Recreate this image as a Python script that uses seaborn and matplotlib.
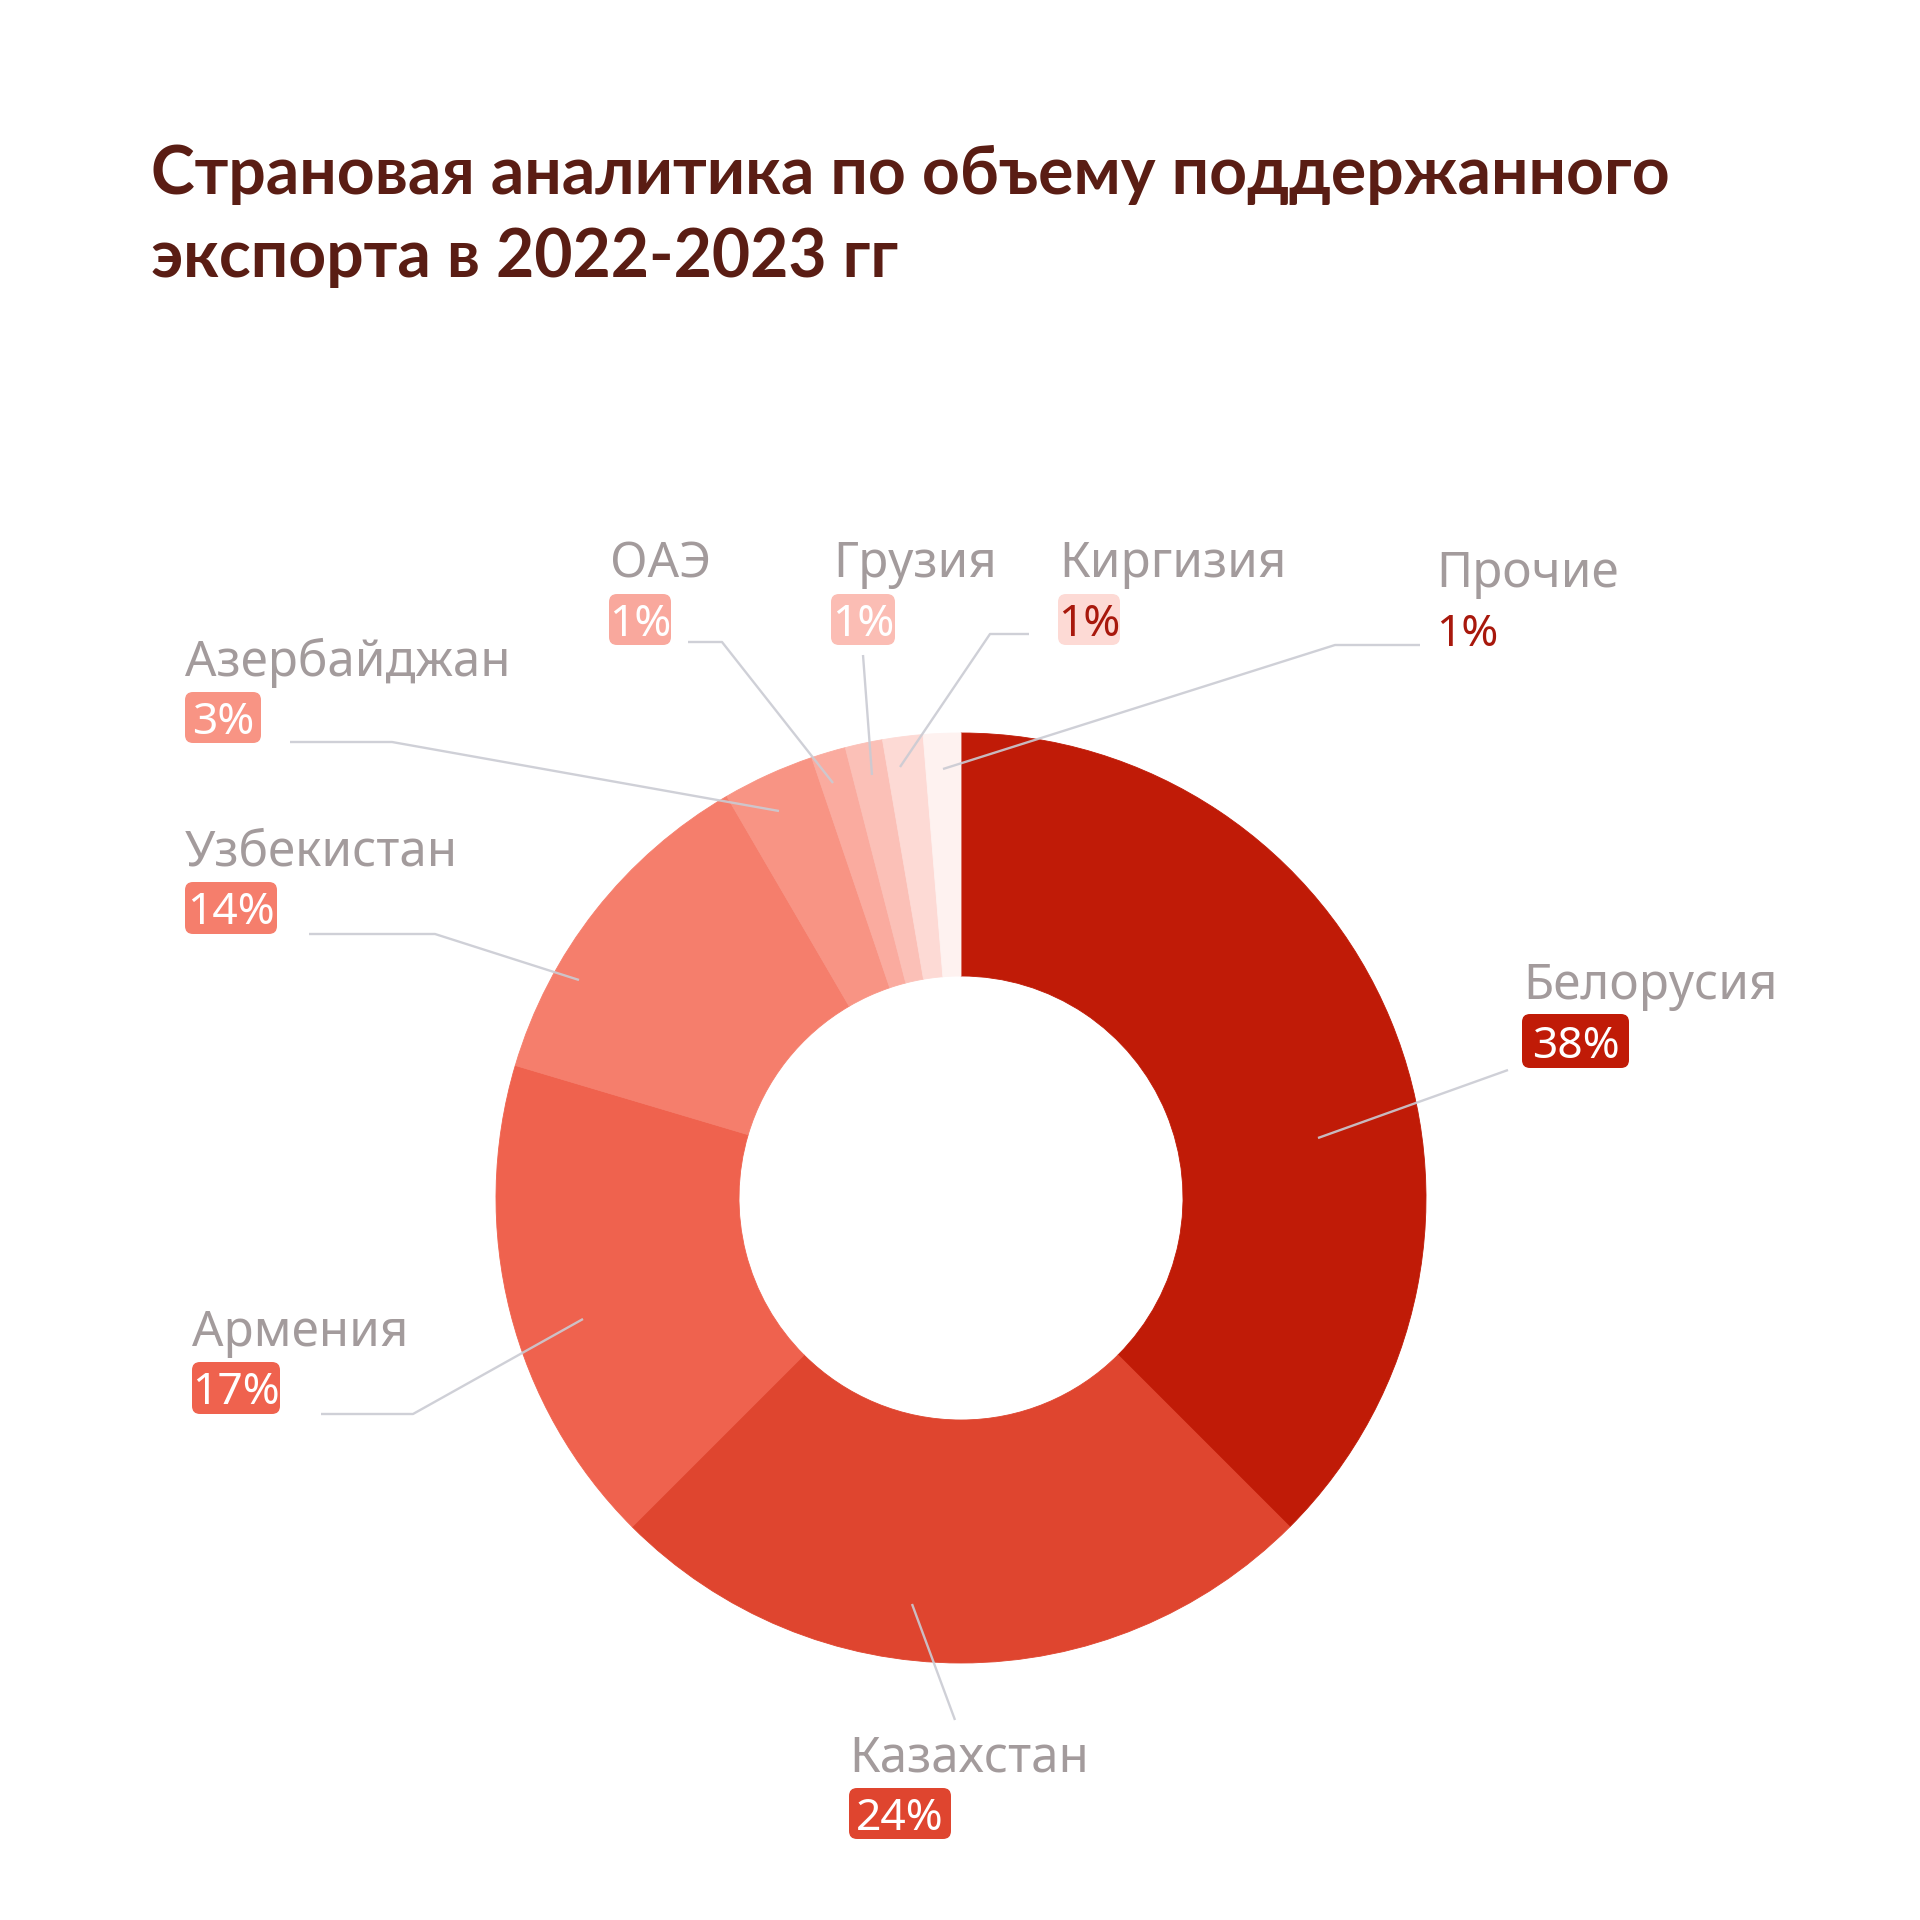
import matplotlib
matplotlib.use("Agg")
import matplotlib.pyplot as plt
import seaborn as sns
from matplotlib.patches import FancyBboxPatch

# ---------------- data ----------------
countries = ["Белорусия", "Казахстан", "Армения", "Узбекистан", "Азербайджан",
             "ОАЭ", "Грузия", "Киргизия", "Прочие"]
shares = [37.5, 25.0, 17.1, 12.0, 3.2, 1.2, 1.3, 1.4, 1.3]
pct_labels = ["38%", "24%", "17%", "14%", "3%", "1%", "1%", "1%", "1%"]
title_lines = ["Страновая аналитика по объему поддержанного",
               "экспорта в 2022-2023 гг"]

# ---------------- styles ----------------
slice_colors = ["#C01B07", "#DF452F", "#EF624E", "#F57E6C", "#F89484",
                "#FAAB9F", "#FBC0B7", "#FDDAD5", "#FEF2F0"]
box_colors = ["#C01B07", "#DF452F", "#EF624E", "#F57E6C", "#F89484",
              "#F9A89D", "#FBBDB4", "#FDDAD5", None]
pct_text_colors = ["white"] * 7 + ["#A8180C", "#A8180C"]
NAME_COLOR = "#A39B9C"
TITLE_COLOR = "#5A1D14"
LEADER_COLOR = "#CACBD3"

W = H = 1920
def Y(y):  # top-down pixel -> axes data (y up)
    return H - y

# layout in pixels (top-down): name (left x, baseline y), box (x0, y0, x1, y1), leader polyline
layout = {
    "Белорусия":   dict(name=(1523, 999),  box=(1522, 1014, 1629, 1068), lead=[(1508, 1070), (1318, 1138)]),
    "Казахстан":   dict(name=(849, 1771),  box=(849, 1788, 951, 1839),   lead=[(955, 1720), (912, 1604)]),
    "Армения":     dict(name=(192, 1346),  box=(192, 1362, 280, 1414),   lead=[(321, 1414), (413, 1414), (583, 1319)]),
    "Узбекистан":  dict(name=(185, 866),   box=(185, 882, 277, 934),     lead=[(309, 934), (435, 934), (579, 980)]),
    "Азербайджан": dict(name=(185, 676),   box=(185, 692, 261, 743),     lead=[(290, 742), (392, 742), (779, 811)]),
    "ОАЭ":         dict(name=(610, 577),   box=(609, 594, 671, 645),     lead=[(688, 642), (722, 642), (833, 783)]),
    "Грузия":      dict(name=(833, 577),   box=(831, 594, 895, 645),     lead=[(863, 655), (872, 775)]),
    "Киргизия":    dict(name=(1059, 577),  box=(1058, 594, 1120, 645),   lead=[(1029, 634), (990, 634), (900, 767)]),
    "Прочие":      dict(name=(1436, 587),  box=(1436, 604, 1494, 655),   lead=[(1420, 645), (1335, 645), (943, 769)]),
}

sns.set_theme(style="white")
plt.rcParams["font.family"] = ["Noto Sans", "DejaVu Sans"]

fig = plt.figure(figsize=(19.2, 19.2), dpi=100, facecolor="white")
ax = fig.add_axes([0, 0, 1, 1])
ax.set_facecolor("white")

palette = sns.color_palette(slice_colors)
wedges, _ = ax.pie(shares, colors=palette, startangle=90, counterclock=False,
                   radius=465, center=(961, Y(1198)),
                   wedgeprops=dict(width=243, linewidth=0.6))
for w, c in zip(wedges, palette):
    w.set_edgecolor(c)

ax.set_xlim(0, W)
ax.set_ylim(0, H)
ax.set_aspect("equal")
ax.axis("off")

for i, name in enumerate(countries):
    lay = layout[name]
    xs = [p[0] for p in lay["lead"]]
    ys = [Y(p[1]) for p in lay["lead"]]
    ax.plot(xs, ys, color=LEADER_COLOR, lw=1.7, alpha=0.9, zorder=5,
            solid_capstyle="butt")
    nx, ny = lay["name"]
    ax.text(nx, Y(ny), name, fontsize=35.5, color=NAME_COLOR, ha="left",
            va="baseline", zorder=6)
    x0, y0, x1, y1 = lay["box"]
    if box_colors[i] is not None:
        ax.add_patch(FancyBboxPatch((x0, Y(y1)), x1 - x0, y1 - y0,
                                    boxstyle="round,pad=0,rounding_size=8",
                                    facecolor=box_colors[i], edgecolor="none",
                                    zorder=6))
        ax.text((x0 + x1) / 2, Y((y0 + y1) / 2), pct_labels[i], fontsize=32,
                color=pct_text_colors[i], ha="center", va="center_baseline",
                zorder=7)
    else:
        ax.text(x0, Y((y0 + y1) / 2), pct_labels[i], fontsize=32,
                color=pct_text_colors[i], ha="left", va="center_baseline",
                zorder=7)

# title, fitted to the reference width of the first line
title_family = ["Lato", "DejaVu Sans"]
t1 = fig.text(151 / W, 1 - 194 / H, title_lines[0], fontsize=50, fontweight="bold",
              color=TITLE_COLOR, family=title_family, ha="left", va="baseline")
fig.canvas.draw()
bb = t1.get_window_extent(renderer=fig.canvas.get_renderer())
fs = 50 * 1523 / bb.width
t1.set_fontsize(fs)
fig.text(151 / W, 1 - 277 / H, title_lines[1], fontsize=fs, fontweight="bold",
         color=TITLE_COLOR, family=title_family, ha="left", va="baseline")

fig.savefig("out.png", dpi=100, facecolor="white")
